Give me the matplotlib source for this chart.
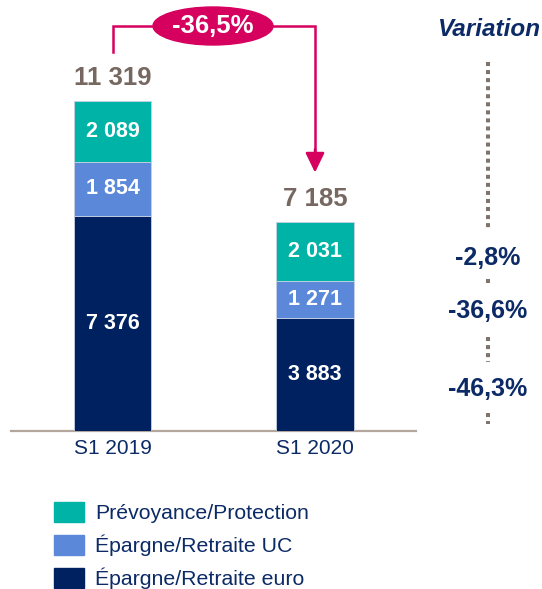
import matplotlib.pyplot as plt
from matplotlib.patches import Ellipse, Patch

plt.rcParams['font.family'] = ['Liberation Sans', 'DejaVu Sans']

periods = ['S1 2019', 'S1 2020']
series = ['Épargne/Retraite euro', 'Épargne/Retraite UC', 'Prévoyance/Protection']
euro = [7376, 3883]
uc = [1854, 1271]
prev = [2089, 2031]
totals = [11319, 7185]
total_labels = ['11 319', '7 185']
change_label = '-36,5%'
variations = ['-2,8%', '-36,6%', '-46,3%']

colors = ['#00215f', '#5b88d8', '#00b3a7']
navy = '#0b2a66'
grey = '#766860'
magenta = '#d6005f'

W, H = 542, 589
fig = plt.figure(figsize=(W / 100, H / 100), dpi=100)
base_px = 431
ax = fig.add_axes([0, (H - base_px) / H, 1, base_px / H])
scale = 0.02915  # px per unit
ax.set_ylim(0, base_px / scale)
x0, step = 112.5, 202.5
ax.set_xlim(-x0 / step, (W - x0) / step)
ax.axis('off')


def fx(px):
    return px / W


def fy(py):
    return 1 - py / H


xs = [0, 1]
width = 77.5 / step
bottom = [0, 0]
for vals, col in zip([euro, uc, prev], colors):
    ax.bar(xs, vals, width, bottom=bottom, color=col, edgecolor='#c9d1e3', linewidth=0.6, zorder=2)
    for x, v, b in zip(xs, vals, bottom):
        ax.text(x, b + v / 2, f'{v:,}'.replace(',', ' '), ha='center', va='center',
                color='white', fontsize=15.5, fontweight='bold', zorder=3)
    bottom = [b + v for b, v in zip(bottom, vals)]

for x, t, lab in zip(xs, totals, total_labels):
    ax.annotate(lab, (x, t), xytext=(0, 23 * 0.72), textcoords='offset points',
                ha='center', va='center', color=grey, fontsize=18.5, fontweight='bold')

# baseline
ax.plot([-101.5 / step, (416 - x0) / step], [0, 0], color='#b2a69d', lw=1.6, zorder=1,
        clip_on=False)

# category labels
for x, p in zip(xs, periods):
    ax.annotate(p, (x, 0), xytext=(0, -17 * 0.72), textcoords='offset points',
                ha='center', va='center', color=navy, fontsize=15)

# bracket with arrow
gap = 49 / scale
top_y = (base_px - 26) / scale
ax.plot([xs[0], xs[0], xs[1], xs[1]],
        [totals[0] + gap, top_y, top_y, totals[1] + gap + 600],
        color=magenta, lw=1.8, solid_joinstyle='miter', zorder=4)
ax.annotate('', xy=(xs[1], totals[1] + gap), xytext=(xs[1], totals[1] + gap + 800),
            arrowprops=dict(arrowstyle='-|>,head_length=1.2,head_width=0.58',
                            color=magenta, lw=1.8, shrinkA=0, shrinkB=0), zorder=4)
ell = Ellipse(((213 - x0) / step, top_y), 120 / step, 38 / scale, color=magenta, zorder=5)
ax.add_patch(ell)
ax.text((213 - x0) / step, top_y, change_label, ha='center', va='center', color='white',
        fontsize=18.5, fontweight='bold', zorder=6)

# variation column
fig.text(fx(541), fy(29), 'Variation', ha='right', va='center', color=navy,
         fontsize=17.5, fontweight='bold', fontstyle='italic')
vx = 487.5
dot_kw = dict(color='#7f746d', lw=2.9, linestyle=(0, (1, 1)), dash_capstyle='butt')
for y1, y2 in [(62, 231), (279, 284), (337, 362), (413, 424)]:
    fig.add_artist(plt.Line2D([fx(vx), fx(vx)], [fy(y1), fy(y2)], **dot_kw))
for lab, y in zip(variations, [258, 311, 389]):
    fig.text(fx(vx), fy(y), lab, ha='center', va='center', color=navy,
             fontsize=18, fontweight='bold')

# legend
handles = [Patch(color=c) for c in colors[::-1]]
fig.legend(handles, series[::-1], loc='upper left', bbox_to_anchor=(fx(54), fy(502)),
           frameon=False, fontsize=15.3, handlelength=1.42, handleheight=1.05,
           handletextpad=0.5, labelspacing=0.55, borderpad=0, borderaxespad=0,
           labelcolor=navy)

fig.savefig('out.png', dpi=100)
